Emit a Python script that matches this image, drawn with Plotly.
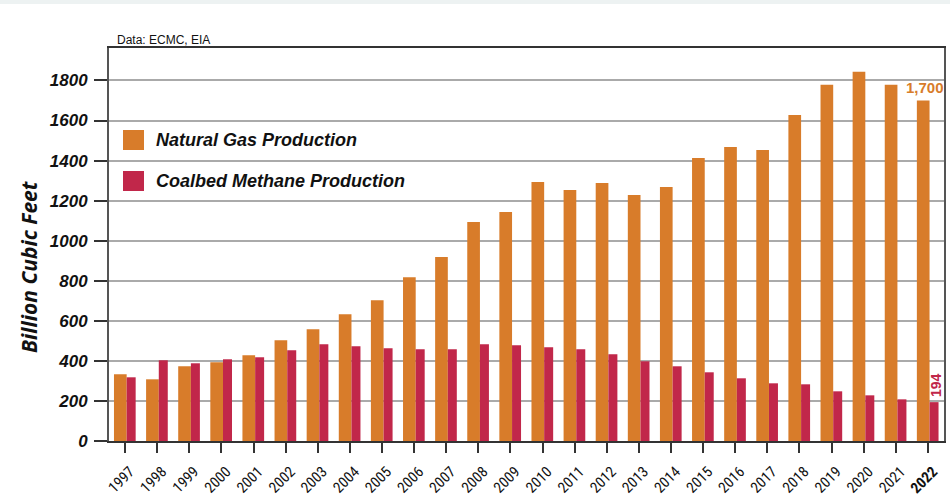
import plotly.graph_objects as go

years = [str(y) for y in range(1997, 2023)]
natural_gas = [333, 308, 373, 393, 428, 503, 558, 633, 703, 818, 918, 1093, 1143, 1293,
               1253, 1288, 1228, 1268, 1413, 1468, 1453, 1628, 1778, 1843, 1778, 1700]
coalbed = [318, 403, 388, 408, 418, 453, 483, 473, 463, 458, 458, 483, 478, 468,
           458, 433, 398, 373, 343, 313, 288, 283, 248, 228, 208, 194]
y_ticks = [0, 200, 400, 600, 800, 1000, 1200, 1400, 1600, 1800]
x_labels = years[:-1] + ["<b>2022</b>"]

ORANGE = "#D87C2A"
RED = "#C1274A"

xi = list(range(len(years)))

fig = go.Figure()
fig.add_trace(go.Bar(x=xi, y=natural_gas, name="Natural Gas Production",
                     marker=dict(color=ORANGE, line=dict(width=0)),
                     width=0.395, offset=-0.345, showlegend=False))
fig.add_trace(go.Bar(x=xi, y=coalbed, name="Coalbed Methane Production",
                     marker=dict(color=RED, line=dict(width=0)),
                     width=0.28, offset=0.05, showlegend=False))

L, R, T, B = 109, 6, 48, 60
W, H = 950, 501
pw, ph = W - L - R, H - T - B

def px(x):
    return (x - L) / pw

def py(y):
    return 1 - (y - T) / ph

shapes = [
    dict(type="rect", xref="paper", yref="paper", x0=px(0), x1=px(950), y0=py(4), y1=py(0),
         fillcolor="#EDF2F2", line=dict(width=0), layer="below"),
    dict(type="rect", xref="paper", yref="paper", x0=px(123), x1=px(144), y0=py(150), y1=py(130),
         fillcolor=ORANGE, line=dict(width=0)),
    dict(type="rect", xref="paper", yref="paper", x0=px(123), x1=px(144), y0=py(191), y1=py(171),
         fillcolor=RED, line=dict(width=0)),
]

legend_font = dict(family="Liberation Sans, Arial", size=18, color="#111111",
                   weight="bold", style="italic")
annotations = [
    dict(text="Natural Gas Production", xref="paper", yref="paper", x=px(154), y=py(140),
         xanchor="left", yanchor="middle", showarrow=False, font=legend_font),
    dict(text="Coalbed Methane Production", xref="paper", yref="paper", x=px(154), y=py(181),
         xanchor="left", yanchor="middle", showarrow=False, font=legend_font),
    dict(text="Data: ECMC, EIA", xref="paper", yref="paper", x=px(115), y=py(40),
         xanchor="left", yanchor="middle", showarrow=False,
         font=dict(family="Liberation Sans, Arial", size=12, color="#111111")),
    dict(text="Billion Cubic Feet", xref="paper", yref="paper", x=px(29), y=py(267),
         xanchor="center", yanchor="middle", textangle=-90, showarrow=False,
         font=dict(family="Open Sans", size=21, color="#111111", weight="bold", style="italic")),
    dict(text="<b>1,700</b>", x=xi[-1], y=natural_gas[-1], xref="x", yref="y",
         xanchor="center", yanchor="bottom", xshift=-3, yshift=2, showarrow=False,
         font=dict(family="Liberation Sans, Arial", size=15, color=ORANGE)),
    dict(text="<b>" + str(coalbed[-1]) + "</b>", x=xi[-1], y=coalbed[-1], xref="x", yref="y",
         xanchor="center", yanchor="bottom", xshift=8, yshift=3, textangle=-90, showarrow=False,
         font=dict(family="Liberation Sans, Arial", size=14, color=RED)),
]

fig.update_layout(
    width=W, height=H,
    margin=dict(l=L, r=R, t=T, b=B, pad=0, autoexpand=False),
    paper_bgcolor="white", plot_bgcolor="white",
    barmode="overlay",
    shapes=shapes, annotations=annotations,
    xaxis=dict(
        range=[-0.5, len(years) - 0.5], automargin=False,
        tickmode="array", tickvals=xi, ticktext=x_labels,
        tickson="boundaries", ticks="outside", ticklen=10, tickwidth=2, tickcolor="#333333",
        tickangle=-45, ticklabelstandoff=4, ticklabelshift=5,
        tickfont=dict(family="Liberation Sans Narrow, Roboto Condensed, Roboto", size=15, color="#111111"),
        showline=True, linecolor="#333333", linewidth=2, mirror=True,
        showgrid=False, zeroline=False, fixedrange=True,
    ),
    yaxis=dict(
        range=[0, 1962], automargin=False,
        tickmode="array", tickvals=y_ticks, ticktext=[str(v) for v in y_ticks],
        ticks="outside", ticklen=13, tickwidth=1.5, tickcolor="#333333",
        ticklabelstandoff=3,
        tickfont=dict(family="Liberation Sans, Arial", size=17, color="#111111",
                      weight="bold", style="italic"),
        showline=True, linecolor="#555555", linewidth=2, mirror=True,
        showgrid=True, gridcolor="#AAAAAA", gridwidth=1.5,
        zeroline=False, fixedrange=True,
    ),
)

fig.write_html("out.html")
